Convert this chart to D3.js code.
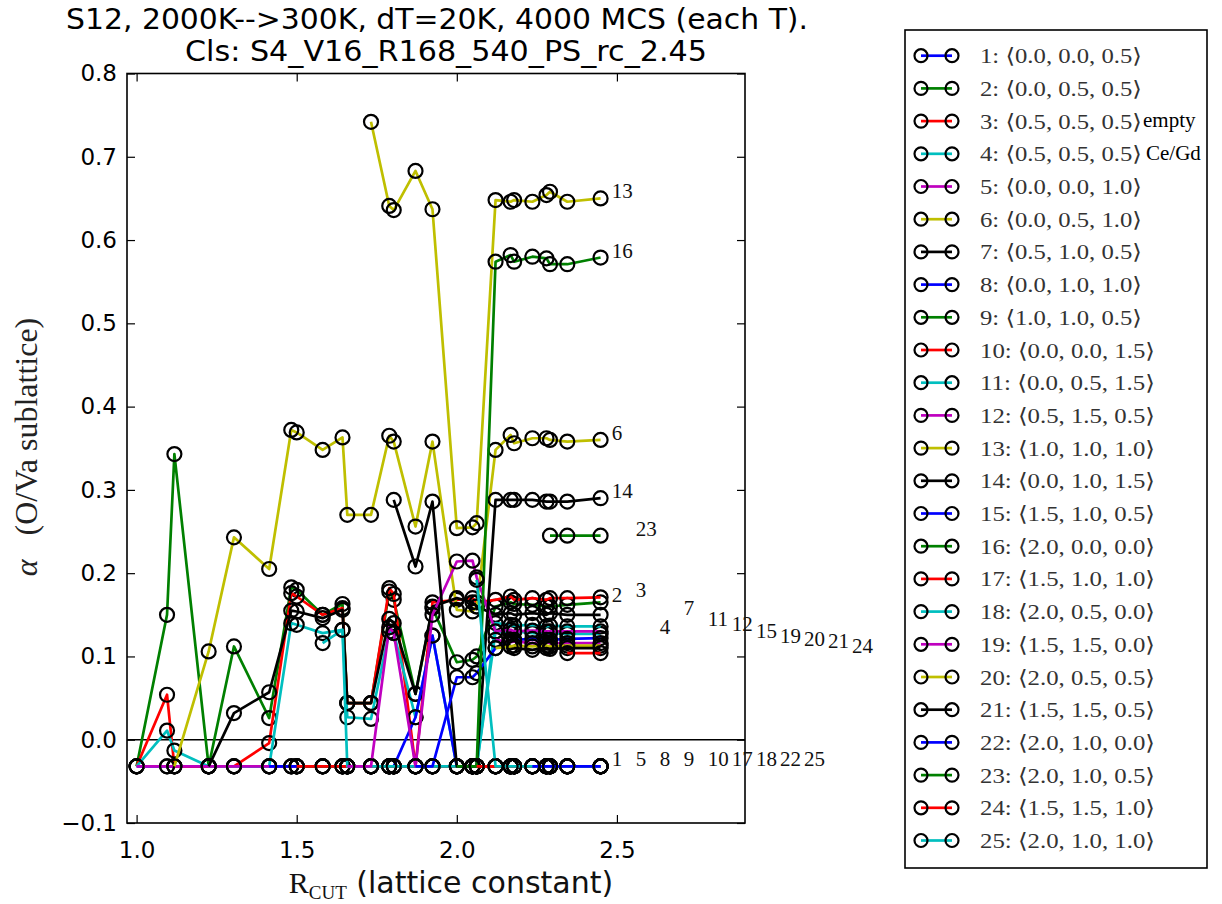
<!DOCTYPE html>
<html><head><meta charset="utf-8">
<script src="https://cdn.jsdelivr.net/npm/d3@7"></script>
<style>body{margin:0;background:#fff}svg{display:block}</style>
</head><body>
<svg id="chart" width="1222" height="904"></svg>
<script>
// ---------- data ----------
const rcut = [1.000, 1.095, 1.118, 1.225, 1.304, 1.414, 1.483, 1.500, 1.581, 1.643, 1.658, 1.732, 1.789, 1.803,
              1.871, 1.924, 2.000, 2.049, 2.062, 2.121, 2.168, 2.179, 2.236, 2.280, 2.291, 2.345, 2.449];
const shellLabels = ["0.0, 0.0, 0.5","0.0, 0.5, 0.5","0.5, 0.5, 0.5","0.5, 0.5, 0.5","0.0, 0.0, 1.0",
  "0.0, 0.5, 1.0","0.5, 1.0, 0.5","0.0, 1.0, 1.0","1.0, 1.0, 0.5","0.0, 0.0, 1.5","0.0, 0.5, 1.5",
  "0.5, 1.5, 0.5","1.0, 1.0, 1.0","0.0, 1.0, 1.5","1.5, 1.0, 0.5","2.0, 0.0, 0.0","1.5, 1.0, 1.0",
  "2.0, 0.5, 0.0","1.5, 1.5, 0.0","2.0, 0.5, 0.5","1.5, 1.5, 0.5","2.0, 1.0, 0.0","2.0, 1.0, 0.5",
  "1.5, 1.5, 1.0","2.0, 1.0, 1.0"];
const legendNotes = ["", "", "empty", "Ce/Gd", "", "", "", "", "", "", "", "", "", "", "", "", "", "", "", "", "", "", "", "", ""];
const s1  = [-0.032,-0.032,-0.032,-0.032,-0.032,-0.032,-0.032,-0.032,-0.032,-0.032,-0.032,-0.032,-0.032,-0.032,-0.032,-0.032,-0.032,-0.032,-0.032,-0.032,-0.032,-0.032,-0.032,-0.032,-0.032,-0.032,-0.032];
const s2  = [-0.032,0.150,0.343,-0.032,0.112,0.026,0.183,0.180,0.150,0.163,0.044,0.044,0.178,0.168,0.055,0.158,0.093,0.096,0.100,0.160,0.165,0.163,0.162,0.160,0.160,0.162,0.165];
const s3  = [-0.032,0.054,-0.032,-0.032,-0.032,-0.004,0.176,0.172,0.150,0.158,0.044,0.044,0.182,0.175,-0.032,0.165,0.168,0.170,0.165,0.168,0.172,0.168,0.170,0.168,0.170,0.170,0.171];
const s4  = [-0.032,0.011,-0.013,-0.032,-0.032,-0.032,0.140,0.138,0.128,0.132,0.027,0.025,0.130,0.128,0.027,0.125,-0.032,-0.032,-0.032,0.130,0.128,0.130,0.128,0.127,0.128,0.127,0.127];
const s5  = [-0.032,-0.032,-0.032,-0.032,-0.032,-0.032,-0.032,-0.032,-0.032,-0.032,-0.032,-0.032,-0.032,-0.032,-0.032,-0.032,-0.032,-0.032,-0.032,-0.032,-0.032,-0.032,-0.032,-0.032,-0.032,-0.032,-0.032];
const s6  = [null,null,-0.032,0.106,0.243,0.205,0.372,0.369,0.348,0.363,0.270,0.270,0.365,0.358,0.256,0.358,0.156,0.154,0.160,0.348,0.366,0.356,0.362,0.362,0.360,0.358,0.360];
const s7  = [null,null,null,-0.032,0.032,0.057,0.155,0.154,0.146,0.156,0.044,0.044,0.145,0.140,0.055,0.160,0.170,0.165,0.160,0.150,0.152,0.150,0.152,0.150,0.152,0.150,0.150];
const s8  = [null,null,null,null,null,-0.032,-0.032,-0.032,-0.032,-0.032,-0.032,-0.032,-0.032,-0.032,0.027,0.125,-0.032,-0.032,-0.032,-0.032,-0.032,-0.032,-0.032,-0.032,-0.032,-0.032,-0.032];
const s9  = [null,null,null,null,null,null,null,-0.032,-0.032,-0.032,-0.032,-0.032,-0.032,-0.032,-0.032,-0.032,-0.032,-0.032,-0.032,-0.032,-0.032,-0.032,-0.032,-0.032,-0.032,-0.032,-0.032];
const s10 = [null,null,null,null,null,null,null,-0.032,-0.032,-0.032,-0.032,-0.032,-0.032,-0.032,-0.032,-0.032,-0.032,-0.032,-0.032,-0.032,-0.032,-0.032,-0.032,-0.032,-0.032,-0.032,-0.032];
const s11 = [null,null,null,null,null,null,null,null,0.116,0.132,-0.032,-0.032,-0.032,-0.032,-0.032,-0.032,-0.032,-0.032,-0.032,0.140,0.138,0.137,0.138,0.136,0.137,0.136,0.136];
const s12 = [null,null,null,null,null,null,null,null,null,null,-0.032,-0.032,0.135,0.128,-0.032,0.150,0.214,0.215,0.195,0.130,0.132,0.130,0.131,0.130,0.130,0.130,0.130];
const s13 = [null,null,null,null,null,null,null,null,null,null,null,0.742,0.641,0.636,0.683,0.637,0.254,0.255,0.260,0.648,0.646,0.648,0.646,0.654,0.658,0.646,0.650];
const s14 = [null,null,null,null,null,null,null,null,null,null,null,null,null,0.288,0.208,0.286,-0.032,-0.032,-0.032,0.288,0.288,0.288,0.288,0.286,0.286,0.286,0.290];
const s15 = [null,null,null,null,null,null,null,null,null,null,null,null,null,null,-0.032,-0.032,0.075,0.075,0.080,0.110,0.120,0.120,0.121,0.120,0.120,0.121,0.122];
const s16 = [null,null,null,null,null,null,null,null,null,null,null,null,null,null,null,null,-0.032,-0.032,-0.032,0.574,0.582,0.574,0.580,0.578,0.571,0.571,0.579];
const s17 = [null,null,null,null,null,null,null,null,null,null,null,null,null,null,null,null,null,null,-0.032,-0.032,-0.032,-0.032,-0.032,-0.032,-0.032,-0.032,-0.032];
const s18 = [null,null,null,null,null,null,null,null,null,null,null,null,null,null,null,null,null,null,0.192,-0.032,-0.032,-0.032,-0.032,-0.032,-0.032,-0.032,-0.032];
const s19 = [null,null,null,null,null,null,null,null,null,null,null,null,null,null,null,null,null,null,null,0.120,0.117,0.118,0.116,0.117,0.116,0.116,0.116];
const s20 = [null,null,null,null,null,null,null,null,null,null,null,null,null,null,null,null,null,null,null,0.110,0.112,0.113,0.112,0.113,0.112,0.113,0.113];
const s21 = [null,null,null,null,null,null,null,null,null,null,null,null,null,null,null,null,null,null,null,null,null,0.110,0.108,0.110,0.109,0.110,0.110];
const s22 = [null,null,null,null,null,null,null,null,null,null,null,null,null,null,null,null,null,null,null,null,null,null,-0.032,-0.032,-0.032,-0.032,-0.032];
const s23 = [null,null,null,null,null,null,null,null,null,null,null,null,null,null,null,null,null,null,null,null,null,null,null,null,0.245,0.245,0.245];
const s24 = [null,null,null,null,null,null,null,null,null,null,null,null,null,null,null,null,null,null,null,null,null,null,null,null,null,0.104,0.104];
const s25 = [null,null,null,null,null,null,null,null,null,null,null,null,null,null,null,null,null,null,null,null,null,null,null,null,null,null,-0.032];
const seriesValues = [s1,s2,s3,s4,s5,s6,s7,s8,s9,s10,s11,s12,s13,s14,s15,s16,s17,s18,s19,s20,s21,s22,s23,s24,s25];
const colorCycle = ["#0000ff","#008000","#ff0000","#00bfbf","#bf00bf","#bfbf00","#000000"];
const xTicks = [1.0, 1.5, 2.0, 2.5];
const yTicks = [-0.1, 0.0, 0.1, 0.2, 0.3, 0.4, 0.5, 0.6, 0.7, 0.8];
const titleLines = ["S12, 2000K-->300K, dT=20K, 4000 MCS (each T).", "Cls: S4_V16_R168_540_PS_rc_2.45"];

// ---------- layout ----------
const svg = d3.select("#chart");
const L = 127, R = 745, T = 73.5, B = 823;
const x = d3.scaleLinear().domain([0.97, 2.9]).range([L, R]);
const y = d3.scaleLinear().domain([-0.1, 0.8]).range([B, T]);
const SANS = "'DejaVu Sans', sans-serif";
const SERIF = "'Liberation Serif', 'DejaVu Serif', serif";

svg.append("rect").attr("width",1222).attr("height",904).attr("fill","#fff");

// title
svg.append("text").attr("x",437).attr("y",29).attr("text-anchor","middle")
  .attr("font-family",SANS).attr("font-size",28).attr("textLength",742).attr("lengthAdjust","spacingAndGlyphs")
  .text(titleLines[0]);
svg.append("text").attr("x",446).attr("y",61).attr("text-anchor","middle")
  .attr("font-family",SANS).attr("font-size",28).attr("textLength",522).attr("lengthAdjust","spacingAndGlyphs")
  .text(titleLines[1]);

const plot = svg.append("g");
svg.append("clipPath").attr("id","clipP").append("rect")
  .attr("x",L).attr("y",T).attr("width",R-L).attr("height",B-T);
const data = plot.append("g").attr("clip-path","url(#clipP)");

// zero line
data.append("line").attr("x1",L).attr("x2",R).attr("y1",y(0)).attr("y2",y(0))
  .attr("stroke","#000").attr("stroke-width",1.6);

const line = d3.line().defined(d => d[1] !== null).x(d => x(d[0])).y(d => y(d[1]));
seriesValues.forEach((vals, i) => {
  const pts = rcut.map((r, j) => [r, vals[j]]);
  const col = colorCycle[i % 7];
  data.append("path").datum(pts).attr("d", line).attr("fill","none")
    .attr("stroke", col).attr("stroke-width", 2.7).attr("stroke-linejoin","round");
  data.selectAll(null).data(pts.filter(p => p[1] !== null)).enter().append("circle")
    .attr("cx", d => x(d[0])).attr("cy", d => y(d[1])).attr("r", 7)
    .attr("fill","none").attr("stroke","#000").attr("stroke-width",2.2);
});

// end-of-series labels, shifted right when they would overlap
const placed = [];
seriesValues.forEach((vals, i) => {
  const last = vals[vals.length - 1];
  let col = -1;
  placed.forEach(p => { if (Math.abs(p.v - last) < 0.05) col = Math.max(col, p.col); });
  col += 1;
  placed.push({v: last, col: col});
  svg.append("text").attr("x", x(rcut[rcut.length-1] + 0.035 + col*0.075)).attr("y", y(last))
    .attr("font-family",SERIF).attr("font-size",21).attr("fill","#111").text(String(i+1));
});

// frame + ticks
const axB = d3.axisBottom(x).tickValues(xTicks).tickFormat(d3.format(".1f")).tickSizeInner(-8).tickSizeOuter(0).tickPadding(19);
const axT = d3.axisTop(x).tickValues(xTicks).tickFormat("").tickSizeInner(-8).tickSizeOuter(0);
const axL = d3.axisLeft(y).tickValues(yTicks).tickFormat(d => d < 0 ? "\u2212" + Math.abs(d).toFixed(1) : d.toFixed(1)).tickSizeInner(-8).tickSizeOuter(0).tickPadding(10);
const axR = d3.axisRight(y).tickValues(yTicks).tickFormat("").tickSizeInner(-8).tickSizeOuter(0);
[[axB,`translate(0,${B})`],[axT,`translate(0,${T})`],[axL,`translate(${L},0)`],[axR,`translate(${R},0)`]].forEach(([a,t]) => {
  const g = plot.append("g").attr("transform",t).call(a);
  g.select(".domain").remove();
  g.selectAll(".tick line").attr("stroke","#000").attr("stroke-width",1.2);
  g.selectAll("text").attr("font-family",SANS).attr("font-size",23).attr("fill","#000");
});
plot.append("rect").attr("x",L).attr("y",T).attr("width",R-L).attr("height",B-T)
  .attr("fill","none").attr("stroke","#000").attr("stroke-width",1.6);

// x label
const xl = svg.append("text").attr("x",451).attr("y",893).attr("text-anchor","middle").attr("fill","#111");
xl.append("tspan").attr("font-family",SERIF).attr("font-size",30).text("R");
xl.append("tspan").attr("font-family",SERIF).attr("font-size",19).attr("dy",6).text("CUT");
xl.append("tspan").attr("font-family",SANS).attr("font-size",30).attr("dy",-6).text(" (lattice constant)");

// y label
const yl = svg.append("text").attr("transform","translate(37,447) rotate(-90)").attr("text-anchor","middle")
  .attr("font-family",SERIF).attr("font-size",32).attr("fill","#222");
yl.append("tspan").attr("font-style","italic").text("\u03b1");
yl.append("tspan").text("\u2002 (O/Va sublattice)");

// legend
const lg = svg.append("g");
lg.append("rect").attr("x",905).attr("y",30).attr("width",302).attr("height",838)
  .attr("fill","#fff").attr("stroke","#000").attr("stroke-width",1.6);
seriesValues.forEach((vals, i) => {
  const cy = 55.7 + i*32.7;
  const col = colorCycle[i % 7];
  lg.append("line").attr("x1",921).attr("x2",952).attr("y1",cy).attr("y2",cy).attr("stroke",col).attr("stroke-width",2.7);
  [921,952].forEach(cx => lg.append("circle").attr("cx",cx).attr("cy",cy).attr("r",6.5).attr("fill","none").attr("stroke","#000").attr("stroke-width",2.2));
  const label = `${i+1}: \u27e8${shellLabels[i]}\u27e9`;
  lg.append("text").attr("x",980).attr("y",cy+7.5).attr("font-family",SERIF).attr("font-size",21).attr("fill","#333")
    .attr("textLength", i < 9 ? 162 : 175).attr("lengthAdjust","spacingAndGlyphs").text(label);
  if (legendNotes[i]) {
    lg.append("text").attr("x", i === 2 ? 1143 : 1146).attr("y",cy+6).attr("font-family",SERIF).attr("font-size",21)
      .attr("fill","#000").text(legendNotes[i]);
  }
});
</script>
</body></html>
